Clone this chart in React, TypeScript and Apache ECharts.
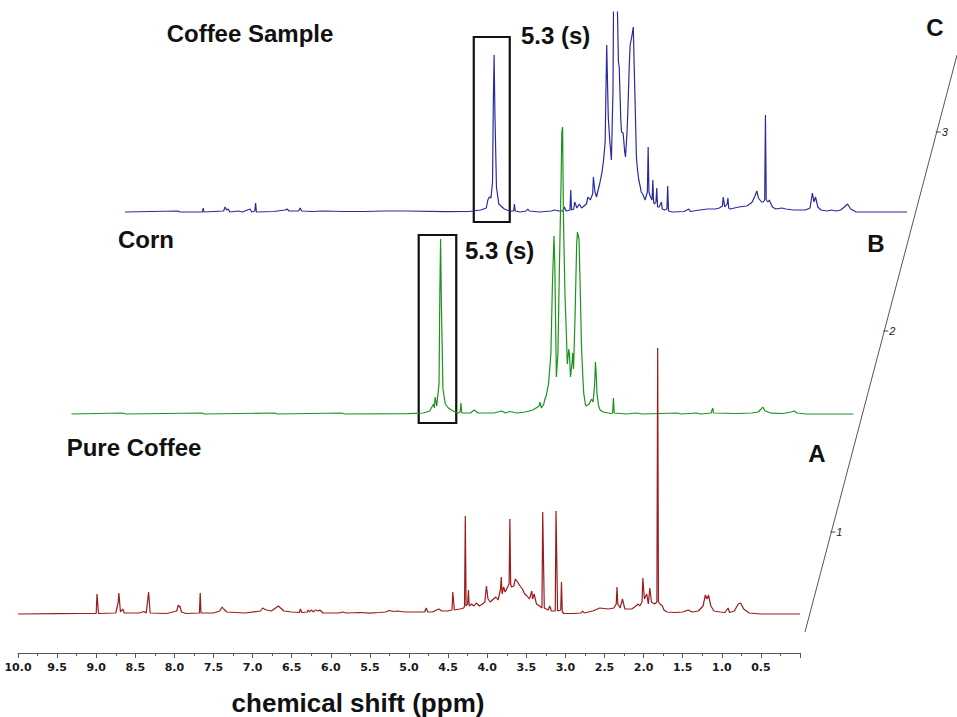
import React, { useEffect, useRef } from "react";
import * as echarts from "echarts";

// ppm, intensity (arbitrary units above baseline)
const pureCoffee: [number, number][] = [
  [10.0, 0], [9.5, 0.3], [9.2, 0.5], [9.0, 0.5], [8.99, 20], [8.97, 0.5], [8.75, 1], [8.72, 11], [8.71, 21], [8.69, 2],
  [8.66, 5], [8.64, 1], [8.45, 1], [8.39, 2.5], [8.36, 1], [8.33, 22], [8.31, 1], [8.1, 0.5], [7.97, 3], [7.95, 9],
  [7.94, 7], [7.93, 8], [7.91, 2], [7.85, 0.5], [7.68, 1], [7.67, 21], [7.66, 1], [7.5, 1], [7.42, 3], [7.39, 7],
  [7.37, 5], [7.33, 2], [7.1, 1], [6.9, 3], [6.87, 6], [6.85, 5], [6.82, 4], [6.76, 3], [6.67, 8], [6.6, 3],
  [6.5, 2], [6.4, 1.5], [6.39, 5], [6.37, 1.5], [6.3, 2], [6.29, 4], [6.27, 2], [6.25, 4], [6.22, 2], [6.2, 4],
  [6.16, 3], [6.14, 4], [6.1, 1], [5.9, 1], [5.85, 2], [5.8, 1], [5.63, 1.5], [5.5, 0.8], [5.38, 1.5], [5.3, 2],
  [5.25, 3.5], [5.2, 2.5], [5.15, 3], [5.05, 2], [4.9, 2], [4.8, 2], [4.78, 6], [4.76, 2], [4.7, 2], [4.62, 5],
  [4.58, 3], [4.5, 3], [4.45, 4], [4.44, 22], [4.42, 4], [4.35, 5], [4.3, 6], [4.29, 8], [4.28, 98], [4.27, 8],
  [4.25, 10], [4.24, 24], [4.23, 8], [4.2, 10], [4.17, 8], [4.14, 11], [4.1, 8], [4.06, 10], [4.03, 12], [4.01, 28],
  [3.99, 15], [3.96, 12], [3.92, 15], [3.89, 17], [3.86, 14], [3.83, 25], [3.82, 37], [3.81, 20], [3.79, 27], [3.77, 22],
  [3.72, 30], [3.71, 95], [3.7, 30], [3.69, 27], [3.66, 28], [3.64, 35], [3.62, 33], [3.58, 28], [3.55, 25], [3.52, 20],
  [3.49, 18], [3.46, 15], [3.43, 23], [3.42, 15], [3.4, 20], [3.37, 10], [3.33, 8], [3.3, 6], [3.29, 102], [3.27, 6],
  [3.22, 4], [3.2, 8], [3.18, 3], [3.13, 3], [3.12, 103], [3.1, 3], [3.06, 4], [3.05, 32], [3.04, 2], [3.02, 0.5],
  [2.9, 0.5], [2.8, 1], [2.78, 3], [2.76, 1], [2.65, 3], [2.56, 6], [2.45, 5], [2.38, 6], [2.35, 10], [2.34, 27],
  [2.33, 10], [2.3, 6], [2.27, 15], [2.24, 5], [2.15, 5], [2.1, 8], [2.07, 10], [2.05, 8], [2.02, 12], [2.01, 36],
  [1.99, 15], [1.96, 20], [1.94, 10], [1.92, 26], [1.9, 12], [1.86, 10], [1.83, 12], [1.82, 266], [1.81, 12], [1.79, 10],
  [1.76, 8], [1.74, 4], [1.7, 2], [1.6, 1.5], [1.5, 2], [1.43, 4], [1.38, 2], [1.3, 3], [1.24, 8], [1.21, 19],
  [1.19, 15], [1.17, 19], [1.14, 8], [1.1, 3], [1.02, 2], [0.96, 1.5], [0.92, 6], [0.9, 1.5], [0.84, 3], [0.79, 10],
  [0.76, 11], [0.72, 5], [0.65, 1], [0.5, 0], [0.0, 0],
];

const corn: [number, number][] = [
  [10.0, 0], [9.35, 1], [9.3, 0], [8.33, 1], [8.3, 0], [7.4, 1], [7.37, 0], [6.55, 1], [6.5, 0], [5.7, 0.3],
  [5.5, 1], [5.42, 3], [5.37, 10], [5.36, 6], [5.35, 17], [5.33, 8], [5.3, 30], [5.29, 120], [5.28, 175], [5.27, 110],
  [5.25, 25], [5.22, 10], [5.18, 6], [5.12, 3], [5.06, 1], [5.03, 2], [5.02, 11], [5.01, 1], [4.9, 1], [4.85, 4],
  [4.8, 1], [4.6, 1], [4.5, 3], [4.45, 1], [4.4, 2.5], [4.3, 1], [4.2, 2], [4.1, 4], [4.02, 8], [4.01, 12],
  [3.99, 6], [3.96, 10], [3.95, 14], [3.93, 18], [3.9, 30], [3.87, 60], [3.85, 130], [3.83, 178], [3.82, 150], [3.8, 37],
  [3.78, 60], [3.76, 150], [3.74, 230], [3.73, 282], [3.72, 287], [3.71, 200], [3.69, 120], [3.67, 76], [3.66, 50], [3.64, 65],
  [3.63, 57], [3.62, 37], [3.6, 50], [3.59, 61], [3.58, 45], [3.56, 100], [3.54, 170], [3.53, 182], [3.52, 178], [3.51, 175],
  [3.49, 110], [3.48, 71], [3.46, 35], [3.45, 21], [3.43, 10], [3.42, 8], [3.38, 10], [3.35, 15], [3.33, 12], [3.31, 30],
  [3.3, 52], [3.29, 40], [3.28, 20], [3.26, 8], [3.24, 4], [3.2, 2], [3.1, 0.5], [3.08, 1], [3.07, 16], [3.06, 1],
  [2.9, 0], [2.78, 1], [2.7, 0], [2.26, 1], [2.2, 0], [2.01, 1], [1.95, 0], [1.82, 1], [1.8, 6], [1.79, 1],
  [1.5, 0.5], [1.3, 1], [1.22, 2], [1.18, 5], [1.16, 7], [1.13, 3], [1.05, 0.8], [0.9, 0.5], [0.8, 2], [0.76, 3],
  [0.72, 1], [0.6, 0], [0.0, 0],
];

const coffeeSample: [number, number][] = [
  [10.0, 0], [9.32, 1], [9.3, 0], [9.01, 0], [9.0, 4], [8.99, 0], [8.74, 1], [8.72, 5], [8.7, 2], [8.68, 3],
  [8.66, 0], [8.55, 1], [8.5, 0], [8.4, 3], [8.38, 0], [8.34, 1], [8.33, 9], [8.32, 0], [8.1, 0.5], [7.95, 2],
  [7.93, 3], [7.9, 1], [7.78, 1], [7.76, 4], [7.74, 1], [7.6, 0.5], [7.48, 1], [7.2, 0.5], [6.95, 0.5], [6.68, 1],
  [6.4, 1], [5.9, 0.3], [5.6, 0.5], [5.45, 2], [5.38, 4], [5.36, 12], [5.34, 15], [5.32, 14], [5.3, 30], [5.29, 110],
  [5.28, 157], [5.27, 100], [5.25, 25], [5.22, 8], [5.15, 3], [5.08, 1], [5.03, 1], [5.02, 8], [5.01, 1], [4.95, 0],
  [4.87, 1], [4.85, 3], [4.83, 1], [4.7, 0], [4.55, 1], [4.51, 2], [4.45, 1], [4.4, 1], [4.38, 5], [4.36, 1],
  [4.31, 2], [4.3, 22], [4.29, 2], [4.26, 3], [4.25, 10], [4.22, 4], [4.19, 8], [4.16, 4], [4.1, 8], [4.08, 15],
  [4.05, 12], [4.02, 18], [4.01, 35], [3.99, 20], [3.97, 15], [3.95, 22], [3.93, 28], [3.9, 40], [3.88, 52], [3.86, 70],
  [3.85, 120], [3.84, 167], [3.83, 130], [3.82, 95], [3.8, 70], [3.78, 52], [3.76, 120], [3.75, 240], [3.73, 240], [3.71, 230],
  [3.69, 150], [3.68, 145], [3.66, 92], [3.65, 80], [3.63, 79], [3.61, 60], [3.6, 55], [3.58, 80], [3.57, 100], [3.55, 150],
  [3.54, 167], [3.52, 175], [3.5, 185], [3.49, 150], [3.48, 119], [3.46, 55], [3.45, 45], [3.43, 32], [3.41, 25], [3.4, 20],
  [3.38, 18], [3.35, 12], [3.32, 20], [3.31, 65], [3.3, 20], [3.28, 15], [3.26, 12], [3.25, 32], [3.24, 10], [3.23, 8],
  [3.21, 10], [3.2, 24], [3.19, 5], [3.17, 5], [3.14, 10], [3.13, 3], [3.1, 2], [3.07, 3], [3.06, 26], [3.05, 1],
  [3.0, 0], [2.85, 0.5], [2.79, 3], [2.77, 0.5], [2.65, 2], [2.55, 3], [2.45, 3], [2.4, 4], [2.36, 6], [2.35, 15],
  [2.33, 5], [2.3, 8], [2.29, 14], [2.28, 4], [2.26, 3], [2.15, 5], [2.05, 6], [2.01, 8], [1.98, 10], [1.95, 15],
  [1.92, 21], [1.9, 14], [1.88, 12], [1.86, 10], [1.84, 10], [1.82, 12], [1.81, 97], [1.8, 12], [1.78, 10], [1.76, 12],
  [1.75, 10], [1.72, 5], [1.68, 3], [1.6, 4], [1.55, 3], [1.45, 2], [1.3, 2], [1.24, 4], [1.21, 19], [1.19, 10],
  [1.17, 15], [1.14, 5], [1.1, 2], [1.02, 1], [0.97, 2], [0.9, 1], [0.85, 2], [0.8, 5], [0.76, 8], [0.72, 3],
  [0.65, 0], [0.0, 0],
];

// highlighted 5.3 ppm singlet boxes: [ppm start, intensity top], [ppm end, intensity bottom]
const cornBox = [[5.56, 179], [5.08, -9]];
const sampleBox = [[5.54, 175], [5.08, -10]];

const stackTicks = ["1", "2", "3"];
const sampleLabels = ["Pure Coffee", "Corn", "Coffee Sample"];
const stackLetters = ["A", "B", "C"];

export default function App() {
  const ref = useRef<HTMLDivElement>(null);
  useEffect(() => {
    if (!ref.current) return;
    const chart = echarts.init(ref.current, null, { renderer: "svg" });
    const font = "'Liberation Sans', Arial, sans-serif";
    const hiddenX = (gi: number) => ({
      type: "value", gridIndex: gi, min: 0, max: 10, inverse: true, show: false,
    });
    const hiddenY = (gi: number, min: number, max: number) => ({
      type: "value", gridIndex: gi, min, max, show: false,
    });
    const box = (b: number[][]) => ({
      silent: true,
      itemStyle: { color: "rgba(0,0,0,0)", borderColor: "#111", borderWidth: 2.2 },
      label: { show: false },
      data: [[{ xAxis: b[0][0], yAxis: b[0][1] }, { xAxis: b[1][0], yAxis: b[1][1] }]],
    });
    // diagonal stack axis
    const lx = (y: number) => 805 + (632 - y) * (152 / 577);
    const tickYs = [532, 331, 132];
    const bold24 = { fontSize: 24, fontWeight: "bold", fontFamily: font, fill: "#111" };
    const graphic: any[] = [
      { type: "line", shape: { x1: 805, y1: 632, x2: 957, y2: 55 }, style: { stroke: "#555", lineWidth: 1 } },
      ...tickYs.map((y) => ({ type: "line", shape: { x1: lx(y) - 1, y1: y, x2: lx(y) + 4, y2: y }, style: { stroke: "#444", lineWidth: 1 } })),
      ...tickYs.map((y, i) => ({ type: "text", x: lx(y) + 5, y, style: { text: stackTicks[i], fontSize: 11, fontStyle: "italic", fontFamily: font, fill: "#222", textVerticalAlign: "middle" } })),
      { type: "text", x: 134, y: 447, style: { ...bold24, text: sampleLabels[0], textAlign: "center", textVerticalAlign: "middle" } },
      { type: "text", x: 146, y: 239, style: { ...bold24, text: sampleLabels[1], textAlign: "center", textVerticalAlign: "middle" } },
      { type: "text", x: 250, y: 33, style: { ...bold24, text: sampleLabels[2], textAlign: "center", textVerticalAlign: "middle" } },
      { type: "text", x: 817, y: 453, style: { ...bold24, text: stackLetters[0], textAlign: "center", textVerticalAlign: "middle" } },
      { type: "text", x: 876, y: 243, style: { ...bold24, text: stackLetters[1], textAlign: "center", textVerticalAlign: "middle" } },
      { type: "text", x: 935, y: 27, style: { ...bold24, text: stackLetters[2], textAlign: "center", textVerticalAlign: "middle" } },
      { type: "text", x: 465, y: 250, style: { ...bold24, text: "5.3 (s)", textAlign: "left", textVerticalAlign: "middle" } },
      { type: "text", x: 521, y: 35, style: { ...bold24, text: "5.3 (s)", textAlign: "left", textVerticalAlign: "middle" } },
      { type: "text", x: 358, y: 703, style: { fontSize: 26, fontWeight: "bold", fontFamily: font, fill: "#111", text: "chemical shift (ppm)", textAlign: "center", textVerticalAlign: "middle" } },
    ];
    chart.setOption({
      animation: false,
      backgroundColor: "#fff",
      grid: [
        { left: 18, right: 157, top: 14, bottom: 64 },
        { left: 71.5, right: 103.5, top: 14, bottom: 288 },
        { left: 125, right: 50, top: 12, bottom: 490 },
      ],
      xAxis: [
        {
          type: "value", gridIndex: 0, min: 0, max: 10, interval: 0.5, inverse: true,
          axisLine: { show: true, onZero: false, lineStyle: { color: "#555", width: 1 } },
          axisTick: { show: true, length: 5, lineStyle: { color: "#555" } },
          minorTick: { show: true, splitNumber: 2, length: 3, lineStyle: { color: "#555" } },
          splitLine: { show: false },
          axisLabel: {
            margin: 9, fontSize: 11, fontWeight: "bold", color: "#1a1a1a", fontFamily: "'DejaVu Sans', sans-serif",
            formatter: (v: number) => (v === 0 ? "" : v.toFixed(1)),
          },
        },
        hiddenX(1),
        hiddenX(2),
      ],
      yAxis: [hiddenY(0, -39, 600), hiddenY(1, -15, 400), hiddenY(2, -15, 200)],
      graphic,
      series: [
        {
          name: "Coffee Sample", type: "line", xAxisIndex: 2, yAxisIndex: 2, data: coffeeSample,
          showSymbol: false, clip: true, lineStyle: { color: "#2b2b9e", width: 1.2 }, markArea: box(sampleBox), z: 2,
        },
        {
          name: "Corn", type: "line", xAxisIndex: 1, yAxisIndex: 1, data: corn,
          showSymbol: false, clip: false, lineStyle: { color: "#1c941c", width: 1.2 }, markArea: box(cornBox), z: 3,
        },
        {
          name: "Pure Coffee", type: "line", xAxisIndex: 0, yAxisIndex: 0, data: pureCoffee,
          showSymbol: false, clip: false, lineStyle: { color: "#9b1c1c", width: 1.2 }, z: 4,
        },
      ],
    });
    return () => chart.dispose();
  }, []);
  return <div ref={ref} style={{ position: "fixed", left: 0, top: 0, width: 957, height: 717 }} />;
}
